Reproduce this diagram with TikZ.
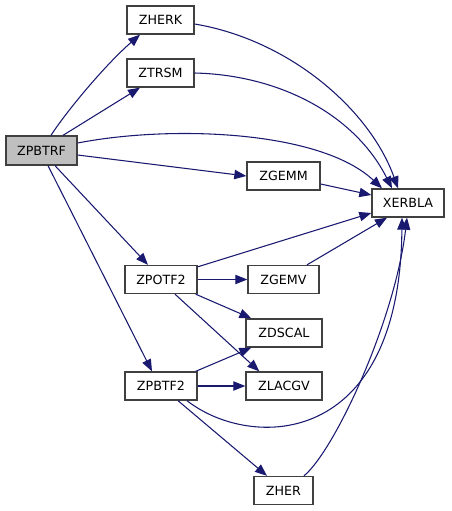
\documentclass[tikz,border=0pt]{standalone}
\usepackage{fontspec}
\setmainfont{DejaVu Sans}
\usetikzlibrary{arrows.meta,calc}
\definecolor{edgecol}{HTML}{191970}
\definecolor{nodeborder}{HTML}{404040}
\definecolor{rootfill}{HTML}{BFBFBF}
\begin{document}
\begin{tikzpicture}[x=0.75pt,y=-0.75pt,
  box/.style={draw=nodeborder,line width=1pt,fill=white,inner sep=0pt,
    minimum height={28*0.75pt},font=\fontsize{9.5}{11}\selectfont},
  link/.style={draw=edgecol,line width=0.8pt,-{Triangle[length=9pt,width=7pt]}}]
\useasboundingbox (0,0) rectangle (451,511);
\node[box,fill=rootfill,minimum width={71*0.75pt},minimum height={29*0.75pt}] (zpbtrf) at (41.5,150.5) {ZPBTRF};
\node[box,minimum width={67*0.75pt}] (zherk) at (160.5,20) {ZHERK};
\node[box,minimum width={67*0.75pt}] (ztrsm) at (160.5,73) {ZTRSM};
\node[box,minimum width={73*0.75pt}] (zgemm) at (283.5,176) {ZGEMM};
\node[box,minimum width={72*0.75pt}] (xerbla) at (408,203) {XERBLA};
\node[box,minimum width={72*0.75pt}] (zpotf2) at (161,279.5) {ZPOTF2};
\node[box,minimum width={71*0.75pt}] (zgemv) at (283.5,279.5) {ZGEMV};
\node[box,minimum width={76*0.75pt}] (zdscal) at (284,333) {ZDSCAL};
\node[box,minimum width={72*0.75pt}] (zpbtf2) at (161,386) {ZPBTF2};
\node[box,minimum width={76*0.75pt}] (zlacgv) at (284,386) {ZLACGV};
\node[box,minimum width={59*0.75pt}] (zher) at (283.5,490.5) {ZHER};

\draw[link] ($(zpbtrf.north)+(9.5,0)$) .. controls (66,112) and (105,65) .. ($(zherk.south)+(-20.5,0)$);
\draw[link] ($(zpbtrf.north)+(21.5,0)$) -- ($(ztrsm.south)+(-20.5,0)$);
\draw[link] ($(zpbtrf.east)+(0,-7.5)$) .. controls (170,125) and (320,130) .. ($(xerbla.north)+(-26,0)$);
\draw[link] ($(zpbtrf.east)+(0,4.5)$) -- (zgemm.west);
\draw[link] ($(zpbtrf.south)+(13.5,0)$) -- ($(zpotf2.north)+(-13,0)$);
\draw[link] ($(zpbtrf.south)+(6.5,0)$) -- ($(zpbtf2.north)+(-9,0)$);
\draw[link] ($(zherk.east)+(0,4)$) .. controls (290,40) and (370,110) .. ($(xerbla.north)+(-10,0)$);
\draw[link] (ztrsm.east) .. controls (280,75) and (355,115) .. ($(xerbla.north)+(-16,0)$);
\draw[link] ($(zgemm.east)+(0,8)$) -- ($(xerbla.west)+(0,-8)$);
\draw[link] ($(zpotf2.north east)+(0,2)$) -- ($(xerbla.west)+(0,10)$);
\draw[link] ($(zgemv.north)+(23.5,0)$) -- ($(xerbla.south)+(-21,0)$);
\draw[link] (zpotf2.east) -- (zgemv.west);
\draw[link] ($(zpotf2.south east)+(-2,0)$) -- ($(zdscal.north west)+(6,0)$);
\draw[link] ($(zpotf2.south)+(14,0)$) -- ($(zlacgv.north west)+(14,0)$);
\draw[link] ($(zpbtf2.north east)+(-2,0)$) -- ($(zdscal.south west)+(6,0)$);
\draw[link] (zpbtf2.east) -- (zlacgv.west);
\draw[link] ($(zpbtf2.south)+(26,0)$) .. controls (250,450) and (400,450) .. ($(xerbla.south)+(-6,0)$);
\draw[link] ($(zpbtf2.south)+(17,0)$) -- ($(zher.north)+(-16.5,0)$);
\draw[link] ($(zher.north)+(20.5,0)$) .. controls (335,450) and (395,320) .. ($(xerbla.south)+(-1,0)$);
\end{tikzpicture}
\end{document}
